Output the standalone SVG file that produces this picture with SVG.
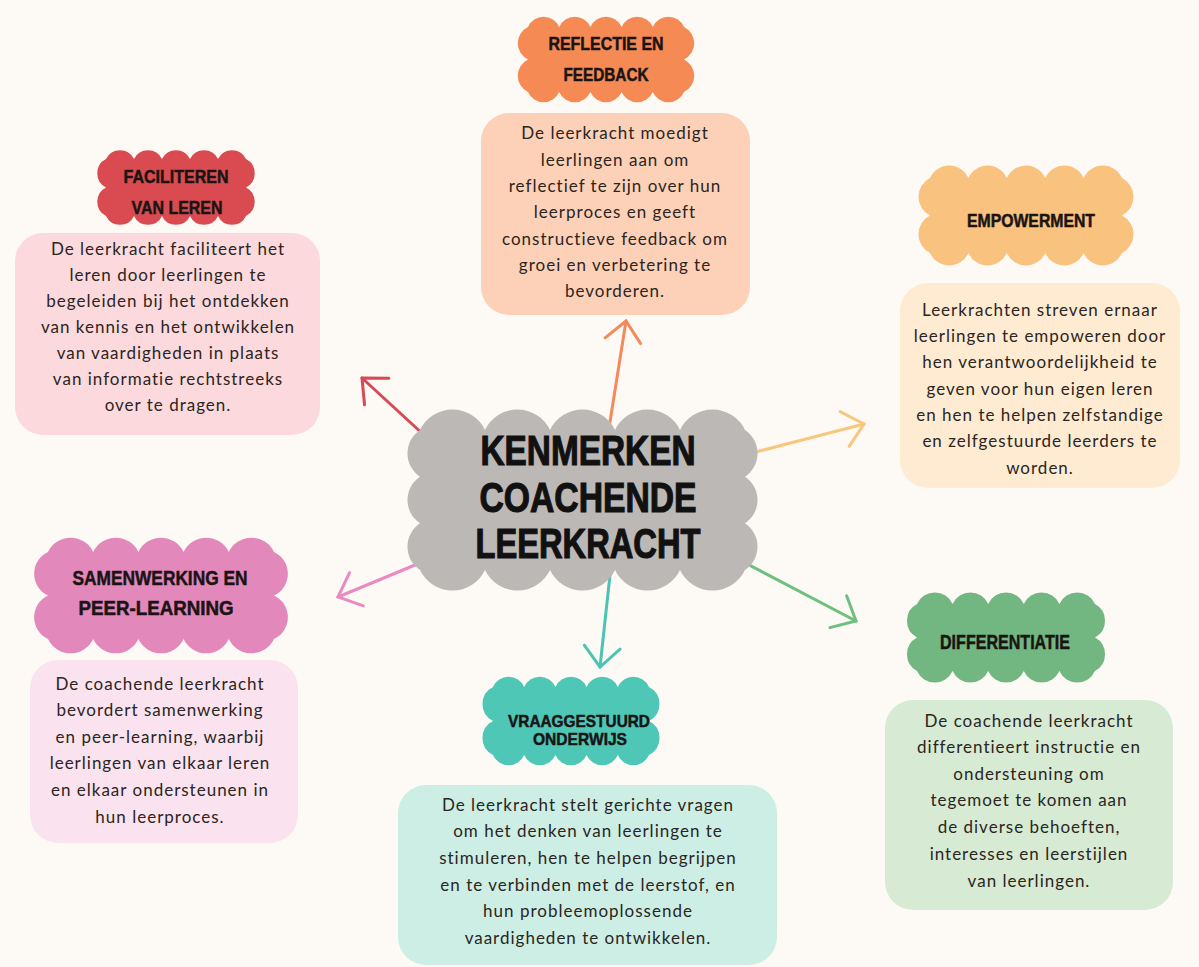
<svg xmlns="http://www.w3.org/2000/svg" width="1199" height="967" viewBox="0 0 1199 967">
<style>
.bg{fill:#fdfaf5}
.head{font-family:"Liberation Sans",Arial,sans-serif;font-weight:700;fill:#1a1414;stroke:#1a1414;stroke-width:0.5;text-anchor:middle}
.title{font-family:"Liberation Sans",Arial,sans-serif;font-weight:700;fill:#111;stroke:#111;stroke-width:1.2;text-anchor:middle;font-size:43px}
.body{font-family:Lato,"Open Sans",sans-serif;font-size:17px;fill:#2b2522;text-anchor:middle;letter-spacing:1px}
.arrow{fill:none;stroke-width:3;stroke-linecap:round}
</style>
<defs>
<marker id="m-red" markerUnits="userSpaceOnUse" markerWidth="30" markerHeight="40" viewBox="0 0 30 40" refX="28" refY="20" orient="auto"><path d="M8,2 L28,20 L8,38" fill="none" stroke="#d64a55" stroke-width="3" stroke-linecap="round"/></marker>
<marker id="m-orange" markerUnits="userSpaceOnUse" markerWidth="30" markerHeight="40" viewBox="0 0 30 40" refX="28" refY="20" orient="auto"><path d="M8,2 L28,20 L8,38" fill="none" stroke="#f48a5b" stroke-width="3" stroke-linecap="round"/></marker>
<marker id="m-yellow" markerUnits="userSpaceOnUse" markerWidth="30" markerHeight="40" viewBox="0 0 30 40" refX="28" refY="20" orient="auto"><path d="M8,2 L28,20 L8,38" fill="none" stroke="#f8c77f" stroke-width="3" stroke-linecap="round"/></marker>
<marker id="m-pink" markerUnits="userSpaceOnUse" markerWidth="30" markerHeight="40" viewBox="0 0 30 40" refX="28" refY="20" orient="auto"><path d="M8,2 L28,20 L8,38" fill="none" stroke="#e98bc0" stroke-width="3" stroke-linecap="round"/></marker>
<marker id="m-teal" markerUnits="userSpaceOnUse" markerWidth="30" markerHeight="40" viewBox="0 0 30 40" refX="28" refY="20" orient="auto"><path d="M8,2 L28,20 L8,38" fill="none" stroke="#4cc4b4" stroke-width="3" stroke-linecap="round"/></marker>
<marker id="m-green" markerUnits="userSpaceOnUse" markerWidth="30" markerHeight="40" viewBox="0 0 30 40" refX="28" refY="20" orient="auto"><path d="M8,2 L28,20 L8,38" fill="none" stroke="#6fbf7f" stroke-width="3" stroke-linecap="round"/></marker>
</defs>
<rect class="bg" x="0" y="0" width="1199" height="967"/>

<g id="connectors">
<path class="arrow" stroke="#d64a55" d="M437,447 L362,378" marker-end="url(#m-red)"/>
<path class="arrow" stroke="#f48a5b" d="M609,428 L626,321" marker-end="url(#m-orange)"/>
<path class="arrow" stroke="#f8c77f" d="M748,454 L864,424" marker-end="url(#m-yellow)"/>
<path class="arrow" stroke="#e98bc0" d="M439,555 L338,597" marker-end="url(#m-pink)"/>
<path class="arrow" stroke="#4cc4b4" d="M610,575 L600,667" marker-end="url(#m-teal)"/>
<path class="arrow" stroke="#6fbf7f" d="M730,555 L856,621" marker-end="url(#m-green)"/>
</g>

<g id="center">
<path fill="#bcb8b5" d="M420,430 a36,36 0 0 1 65,0 a36,36 0 0 1 65,0 a36,36 0 0 1 65,0 a36,36 0 0 1 65,0 a36,36 0 0 1 65,0 a28,28 0 0 1 0,46.67 a28,28 0 0 1 0,46.67 a28,28 0 0 1 0,46.66 a36,36 0 0 1 -65,0 a36,36 0 0 1 -65,0 a36,36 0 0 1 -65,0 a36,36 0 0 1 -65,0 a36,36 0 0 1 -65,0 a28,28 0 0 1 0,-46.67 a28,28 0 0 1 0,-46.67 a28,28 0 0 1 0,-46.66 Z"/>
<text class="title" x="588" y="465" textLength="215" lengthAdjust="spacingAndGlyphs">KENMERKEN</text>
<text class="title" x="588" y="512" textLength="217" lengthAdjust="spacingAndGlyphs">COACHENDE</text>
<text class="title" x="588" y="558" textLength="225" lengthAdjust="spacingAndGlyphs">LEERKRACHT</text>
</g>

<g id="reflectie">
<path fill="#f68a55" d="M528,27 a17,17 0 0 1 31.2,0 a17,17 0 0 1 31.2,0 a17,17 0 0 1 31.2,0 a17,17 0 0 1 31.2,0 a17,17 0 0 1 31.2,0 a18,18 0 0 1 0,32.5 a18,18 0 0 1 0,32.5 a17,17 0 0 1 -31.2,0 a17,17 0 0 1 -31.2,0 a17,17 0 0 1 -31.2,0 a17,17 0 0 1 -31.2,0 a17,17 0 0 1 -31.2,0 a18,18 0 0 1 0,-32.5 a18,18 0 0 1 0,-32.5 Z"/>
<text class="head" x="606" y="50" font-size="18" textLength="115" lengthAdjust="spacingAndGlyphs">REFLECTIE EN</text>
<text class="head" x="606" y="81" font-size="18" textLength="85" lengthAdjust="spacingAndGlyphs">FEEDBACK</text>
<rect x="481" y="113" width="269" height="202" rx="28" fill="#fdd1b8"/>
<text class="body" x="615" y="139">De leerkracht moedigt</text>
<text class="body" x="615" y="166">leerlingen aan om</text>
<text class="body" x="615" y="192">reflectief te zijn over hun</text>
<text class="body" x="615" y="218">leerproces en geeft</text>
<text class="body" x="615" y="245">constructieve feedback om</text>
<text class="body" x="615" y="271">groei en verbetering te</text>
<text class="body" x="615" y="297">bevorderen.</text>
</g>

<g id="faciliteren">
<path fill="#d94b50" d="M106,159 a15.5,15.5 0 0 1 28,0 a15.5,15.5 0 0 1 28,0 a15.5,15.5 0 0 1 28,0 a15.5,15.5 0 0 1 28,0 a15.5,15.5 0 0 1 28,0 a16,16 0 0 1 0,28.5 a16,16 0 0 1 0,28.5 a15.5,15.5 0 0 1 -28,0 a15.5,15.5 0 0 1 -28,0 a15.5,15.5 0 0 1 -28,0 a15.5,15.5 0 0 1 -28,0 a15.5,15.5 0 0 1 -28,0 a16,16 0 0 1 0,-28.5 a16,16 0 0 1 0,-28.5 Z"/>
<text class="head" x="176" y="183" font-size="19" textLength="105" lengthAdjust="spacingAndGlyphs">FACILITEREN</text>
<text class="head" x="177" y="214" font-size="19" textLength="91" lengthAdjust="spacingAndGlyphs">VAN LEREN</text>
<rect x="15" y="233" width="305" height="202" rx="28" fill="#fcd9dc"/>
<text class="body" x="168" y="255">De leerkracht faciliteert het</text>
<text class="body" x="168" y="281">leren door leerlingen te</text>
<text class="body" x="168" y="307">begeleiden bij het ontdekken</text>
<text class="body" x="168" y="333">van kennis en het ontwikkelen</text>
<text class="body" x="168" y="359">van vaardigheden in plaats</text>
<text class="body" x="168" y="385">van informatie rechtstreeks</text>
<text class="body" x="168" y="411">over te dragen.</text>
</g>

<g id="empowerment">
<path fill="#f9c27e" d="M930,178 a21,21 0 0 1 38.4,0 a21,21 0 0 1 38.4,0 a21,21 0 0 1 38.4,0 a21,21 0 0 1 38.4,0 a21,21 0 0 1 38.4,0 a21,21 0 0 1 0,37.5 a21,21 0 0 1 0,37.5 a21,21 0 0 1 -38.4,0 a21,21 0 0 1 -38.4,0 a21,21 0 0 1 -38.4,0 a21,21 0 0 1 -38.4,0 a21,21 0 0 1 -38.4,0 a21,21 0 0 1 0,-37.5 a21,21 0 0 1 0,-37.5 Z"/>
<text class="head" x="1031" y="227" font-size="18" textLength="128" lengthAdjust="spacingAndGlyphs">EMPOWERMENT</text>
<rect x="900" y="283" width="280" height="205" rx="28" fill="#feebd2"/>
<text class="body" x="1040" y="316">Leerkrachten streven ernaar</text>
<text class="body" x="1040" y="342">leerlingen te empoweren door</text>
<text class="body" x="1040" y="368">hen verantwoordelijkheid te</text>
<text class="body" x="1040" y="395">geven voor hun eigen leren</text>
<text class="body" x="1040" y="421">en hen te helpen zelfstandige</text>
<text class="body" x="1040" y="447">en zelfgestuurde leerders te</text>
<text class="body" x="1040" y="474">worden.</text>
</g>

<g id="samenwerking">
<path fill="#e388ba" d="M48,552 a25,25 0 0 1 45.2,0 a25,25 0 0 1 45.2,0 a25,25 0 0 1 45.2,0 a25,25 0 0 1 45.2,0 a25,25 0 0 1 45.2,0 a24,24 0 0 1 0,43.5 a24,24 0 0 1 0,43.5 a25,25 0 0 1 -45.2,0 a25,25 0 0 1 -45.2,0 a25,25 0 0 1 -45.2,0 a25,25 0 0 1 -45.2,0 a25,25 0 0 1 -45.2,0 a24,24 0 0 1 0,-43.5 a24,24 0 0 1 0,-43.5 Z"/>
<text class="head" x="160" y="585" font-size="20" textLength="175" lengthAdjust="spacingAndGlyphs">SAMENWERKING EN</text>
<text class="head" x="156" y="615" font-size="20" textLength="155" lengthAdjust="spacingAndGlyphs">PEER-LEARNING</text>
<rect x="30" y="660" width="268" height="183" rx="28" fill="#fae3ee"/>
<text class="body" x="160" y="690">De coachende leerkracht</text>
<text class="body" x="160" y="716">bevordert samenwerking</text>
<text class="body" x="160" y="743">en peer-learning, waarbij</text>
<text class="body" x="160" y="769">leerlingen van elkaar leren</text>
<text class="body" x="160" y="796">en elkaar ondersteunen in</text>
<text class="body" x="160" y="823">hun leerproces.</text>
</g>

<g id="vraaggestuurd">
<path fill="#4ec7b6" d="M493,687 a17,17 0 0 1 31.2,0 a17,17 0 0 1 31.2,0 a17,17 0 0 1 31.2,0 a17,17 0 0 1 31.2,0 a17,17 0 0 1 31.2,0 a19,19 0 0 1 0,34 a19,19 0 0 1 0,34 a17,17 0 0 1 -31.2,0 a17,17 0 0 1 -31.2,0 a17,17 0 0 1 -31.2,0 a17,17 0 0 1 -31.2,0 a17,17 0 0 1 -31.2,0 a19,19 0 0 1 0,-34 a19,19 0 0 1 0,-34 Z"/>
<text class="head" x="579" y="727" font-size="17" textLength="142" lengthAdjust="spacingAndGlyphs">VRAAGGESTUURD</text>
<text class="head" x="580" y="745" font-size="17" textLength="94" lengthAdjust="spacingAndGlyphs">ONDERWIJS</text>
<rect x="398" y="785" width="379" height="180" rx="28" fill="#cdeee5"/>
<text class="body" x="588" y="811">De leerkracht stelt gerichte vragen</text>
<text class="body" x="588" y="837">om het denken van leerlingen te</text>
<text class="body" x="588" y="864">stimuleren, hen te helpen begrijpen</text>
<text class="body" x="588" y="891">en te verbinden met de leerstof, en</text>
<text class="body" x="588" y="917">hun probleemoplossende</text>
<text class="body" x="588" y="944">vaardigheden te ontwikkelen.</text>
</g>

<g id="differentiatie">
<path fill="#72b781" d="M917,604 a19.5,19.5 0 0 1 35.6,0 a19.5,19.5 0 0 1 35.6,0 a19.5,19.5 0 0 1 35.6,0 a19.5,19.5 0 0 1 35.6,0 a19.5,19.5 0 0 1 35.6,0 a19,19 0 0 1 0,33.5 a19,19 0 0 1 0,33.5 a19.5,19.5 0 0 1 -35.6,0 a19.5,19.5 0 0 1 -35.6,0 a19.5,19.5 0 0 1 -35.6,0 a19.5,19.5 0 0 1 -35.6,0 a19.5,19.5 0 0 1 -35.6,0 a19,19 0 0 1 0,-33.5 a19,19 0 0 1 0,-33.5 Z"/>
<text class="head" x="1005" y="649" font-size="20" textLength="130" lengthAdjust="spacingAndGlyphs">DIFFERENTIATIE</text>
<rect x="885" y="700" width="288" height="210" rx="28" fill="#d7ead3"/>
<text class="body" x="1029" y="727">De coachende leerkracht</text>
<text class="body" x="1029" y="753">differentieert instructie en</text>
<text class="body" x="1029" y="780">ondersteuning om</text>
<text class="body" x="1029" y="806">tegemoet te komen aan</text>
<text class="body" x="1029" y="833">de diverse behoeften,</text>
<text class="body" x="1029" y="860">interesses en leerstijlen</text>
<text class="body" x="1029" y="887">van leerlingen.</text>
</g>
</svg>
